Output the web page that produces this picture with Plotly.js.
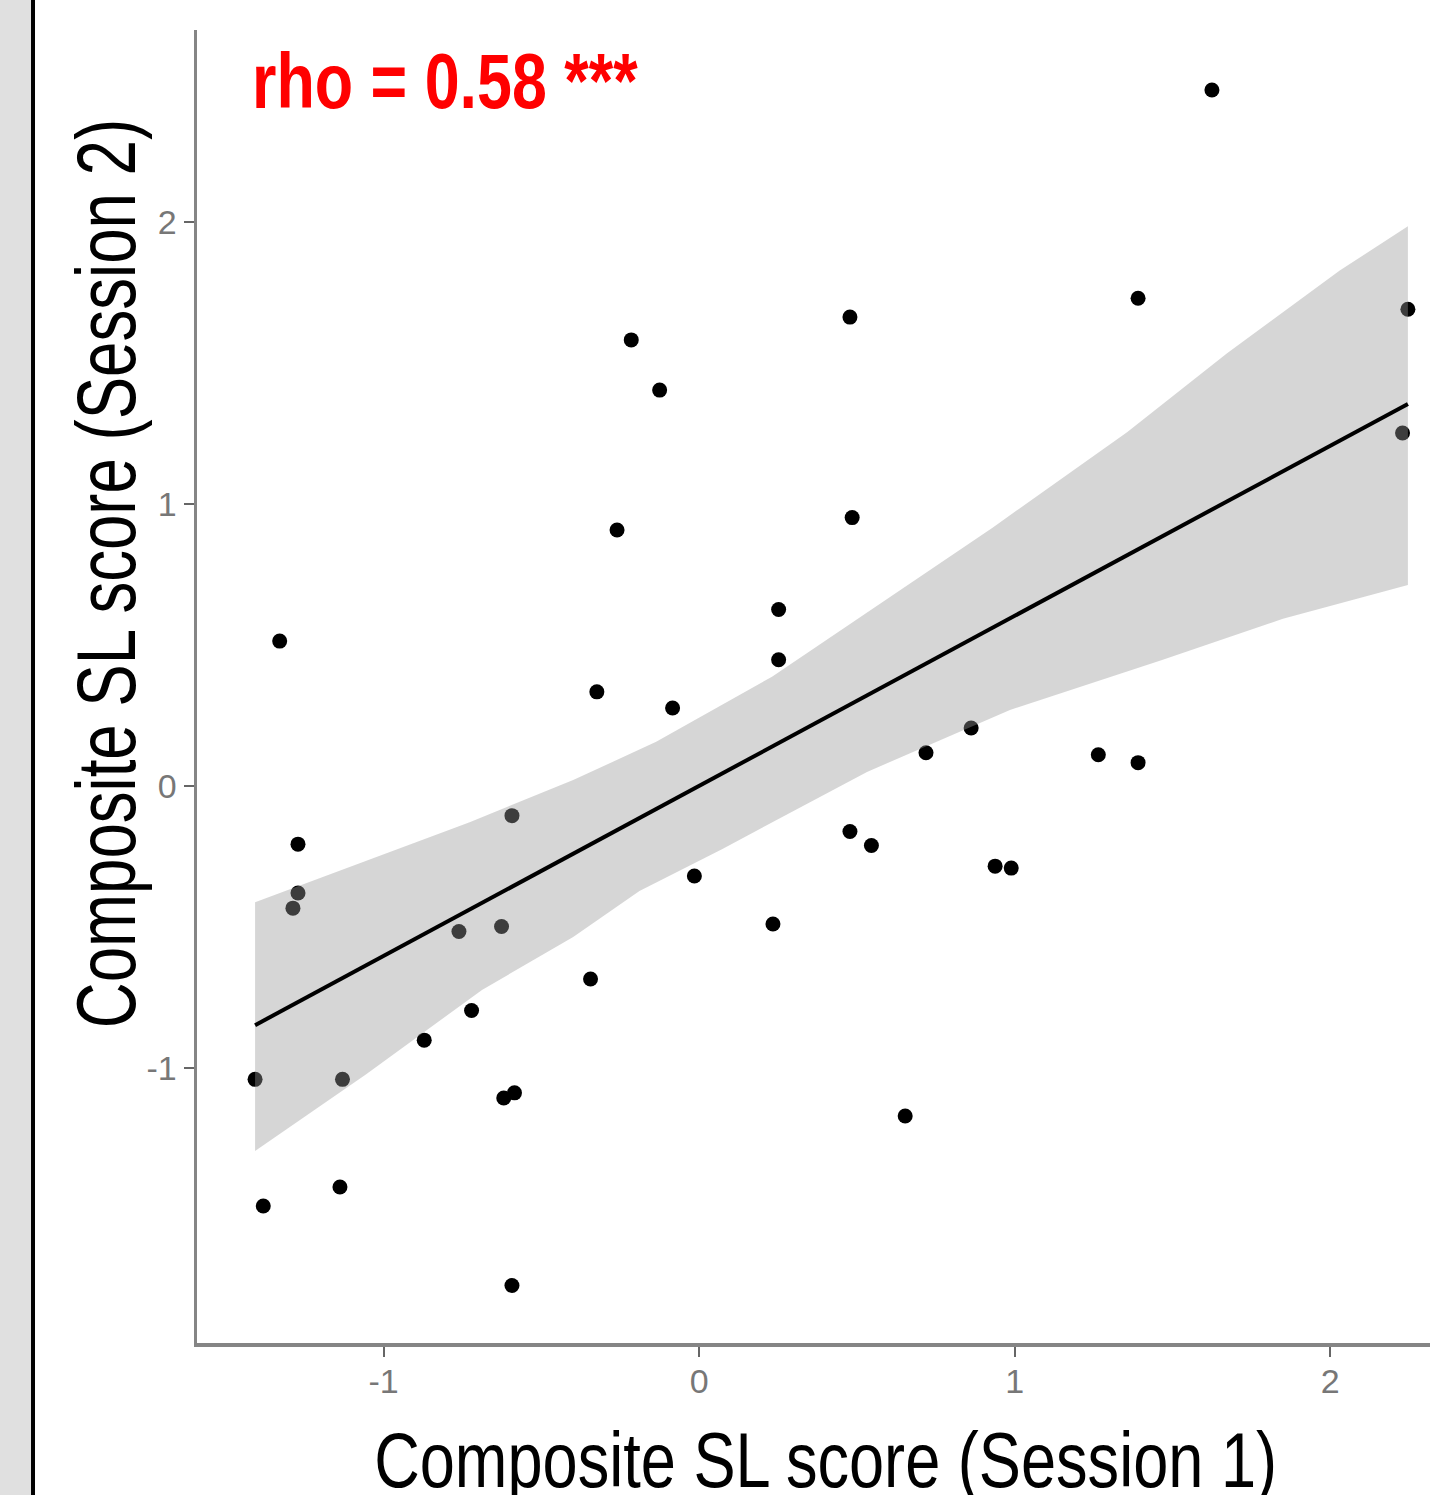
<!DOCTYPE html>
<html>
<head>
<meta charset="utf-8">
<script src="https://cdn.plot.ly/plotly-3.0.1.min.js"></script>
<style>
  html, body { margin: 0; padding: 0; background: #ffffff; }
  #chart { width: 1430px; height: 1495px; }
</style>
</head>
<body>
<div id="chart"></div>
<script>
// Composite SL score, Session 1 (x) vs Session 2 (y)
const session1 = [1.625, 1.391, 2.246, 0.478, -0.215, -0.125, 2.229, 0.485, -0.260, 0.252,
  -1.329, 0.252, -0.324, -0.084, 0.862, 0.719, 1.265, 1.391, -0.593, 0.478,
  0.546, -1.271, 0.938, 0.989, -0.015, -1.271, -1.287, -0.761, -0.626, 0.234,
  -0.344, -0.721, -0.871, -1.407, -1.130, -0.585, -0.619, 0.653, -1.138, -1.381, -0.593];
const session2 = [2.468, 1.730, 1.691, 1.663, 1.582, 1.404, 1.252, 0.952, 0.908, 0.626,
  0.514, 0.448, 0.334, 0.277, 0.206, 0.118, 0.111, 0.083, -0.105, -0.161,
  -0.211, -0.206, -0.284, -0.291, -0.319, -0.379, -0.433, -0.516, -0.498, -0.489,
  -0.684, -0.796, -0.901, -1.040, -1.040, -1.088, -1.106, -1.170, -1.422, -1.489, -1.771];

// Linear fit (end points) and its confidence band
const fitX = [-1.407, 2.246];
const fitY = [-0.848, 1.355];
const bandUpperX = [-1.407, -1.016, -0.727, -0.399, -0.136, 0.231, 0.464, 0.931, 1.356, 1.673, 2.030, 2.246];
const bandUpperY = [-0.412, -0.250, -0.128, 0.021, 0.157, 0.388, 0.564, 0.917, 1.255, 1.535, 1.828, 1.985];
const bandLowerX = [-1.407, -1.056, -0.688, -0.399, -0.189, 0.074, 0.532, 0.985, 1.467, 1.850, 2.246];
const bandLowerY = [-1.294, -1.023, -0.723, -0.535, -0.372, -0.223, 0.050, 0.270, 0.447, 0.593, 0.713];

const tickVals = [-1, 0, 1, 2];
const tickText = ['-1', '0', '1', '2'];

const statLabel = 'rho = 0.58 ***';
const xTitle = 'Composite SL score (Session 1)';
const yTitle = 'Composite SL score (Session 2)';

const narrow = '"Liberation Sans Narrow", "Arial Narrow", "Liberation Sans", Arial, sans-serif';
const regular = '"Liberation Sans", Arial, sans-serif';

const bandX = bandUpperX.concat(bandLowerX.slice().reverse());
const bandY = bandUpperY.concat(bandLowerY.slice().reverse());

const traces = [
  {
    type: 'scatter', mode: 'markers', x: session1, y: session2,
    marker: { color: '#000000', size: 15, line: { width: 0 } },
    hoverinfo: 'x+y', showlegend: false
  },
  {
    type: 'scatter', mode: 'lines', x: bandX, y: bandY,
    fill: 'toself', fillcolor: 'rgba(153,153,153,0.4)',
    line: { width: 0, color: 'rgba(0,0,0,0)' },
    hoverinfo: 'skip', showlegend: false
  },
  {
    type: 'scatter', mode: 'lines', x: fitX, y: fitY,
    line: { color: '#000000', width: 4 },
    hoverinfo: 'skip', showlegend: false
  }
];

const axisCommon = {
  showgrid: false, zeroline: false, showline: true,
  linecolor: '#858585', linewidth: 3.5,
  ticks: 'outside', ticklen: 10, tickwidth: 2, tickcolor: '#666666',
  tickmode: 'array', tickvals: tickVals, ticktext: tickText,
  tickfont: { family: regular, size: 34, color: '#777777' },
  fixedrange: true
};

const layout = {
  width: 1430, height: 1495, autosize: false,
  margin: { l: 197, r: 0, t: 30, b: 152, pad: 0 },
  paper_bgcolor: '#ffffff', plot_bgcolor: '#ffffff',
  showlegend: false,
  xaxis: Object.assign({}, axisCommon, { range: [-1.591, 2.316], ticklabelstandoff: -4 }),
  yaxis: Object.assign({}, axisCommon, { range: [-1.975, 2.681] }),
  shapes: [
    { type: 'rect', xref: 'paper', yref: 'paper', x0: -0.1598, x1: -0.1346, y0: -0.1158, y1: 1.0229,
      fillcolor: '#e0e0e0', line: { width: 0 }, layer: 'below' },
    { type: 'line', xref: 'paper', yref: 'paper', x0: -0.1330, x1: -0.1330, y0: -0.1158, y1: 1.0229,
      line: { color: '#000000', width: 4 } }
  ],
  annotations: [
    { text: '<b>' + statLabel + '</b>', xref: 'paper', yref: 'paper', x: 0.043, y: 0.9612,
      xanchor: 'left', yanchor: 'middle', showarrow: false,
      font: { family: narrow, size: 78, color: '#ff0000' } },
    { text: xTitle, xref: 'paper', yref: 'paper', x: 0.5101, y: -0.0891,
      xanchor: 'center', yanchor: 'middle', showarrow: false,
      font: { family: narrow, size: 77, color: '#000000' } },
    { text: yTitle, xref: 'paper', yref: 'paper', x: -0.0738, y: 0.5855, textangle: -90,
      xanchor: 'center', yanchor: 'middle', showarrow: false,
      font: { family: narrow, size: 84, color: '#000000' } }
  ]
};

// Horizontal condensing (the original uses a narrow typeface that is not installed)
const squeeze = [
  { s: 0.805, origin: 'left' },
  { s: 0.82, origin: 'center' },
  { s: 0.757, origin: 'center' }
];

Plotly.newPlot('chart', traces, layout, { displayModeBar: false, staticPlot: true }).then(function (gd) {
  const texts = gd.querySelectorAll('.annotation .annotation-text');
  texts.forEach(function (el, i) {
    const cfg = squeeze[i];
    if (!cfg) return;
    const bb = el.getBBox();
    const ox = cfg.origin === 'left' ? bb.x : bb.x + bb.width / 2;
    el.setAttribute('transform', 'translate(' + ox + ',0) scale(' + cfg.s + ',1) translate(' + (-ox) + ',0)');
  });
});
</script>
</body>
</html>
